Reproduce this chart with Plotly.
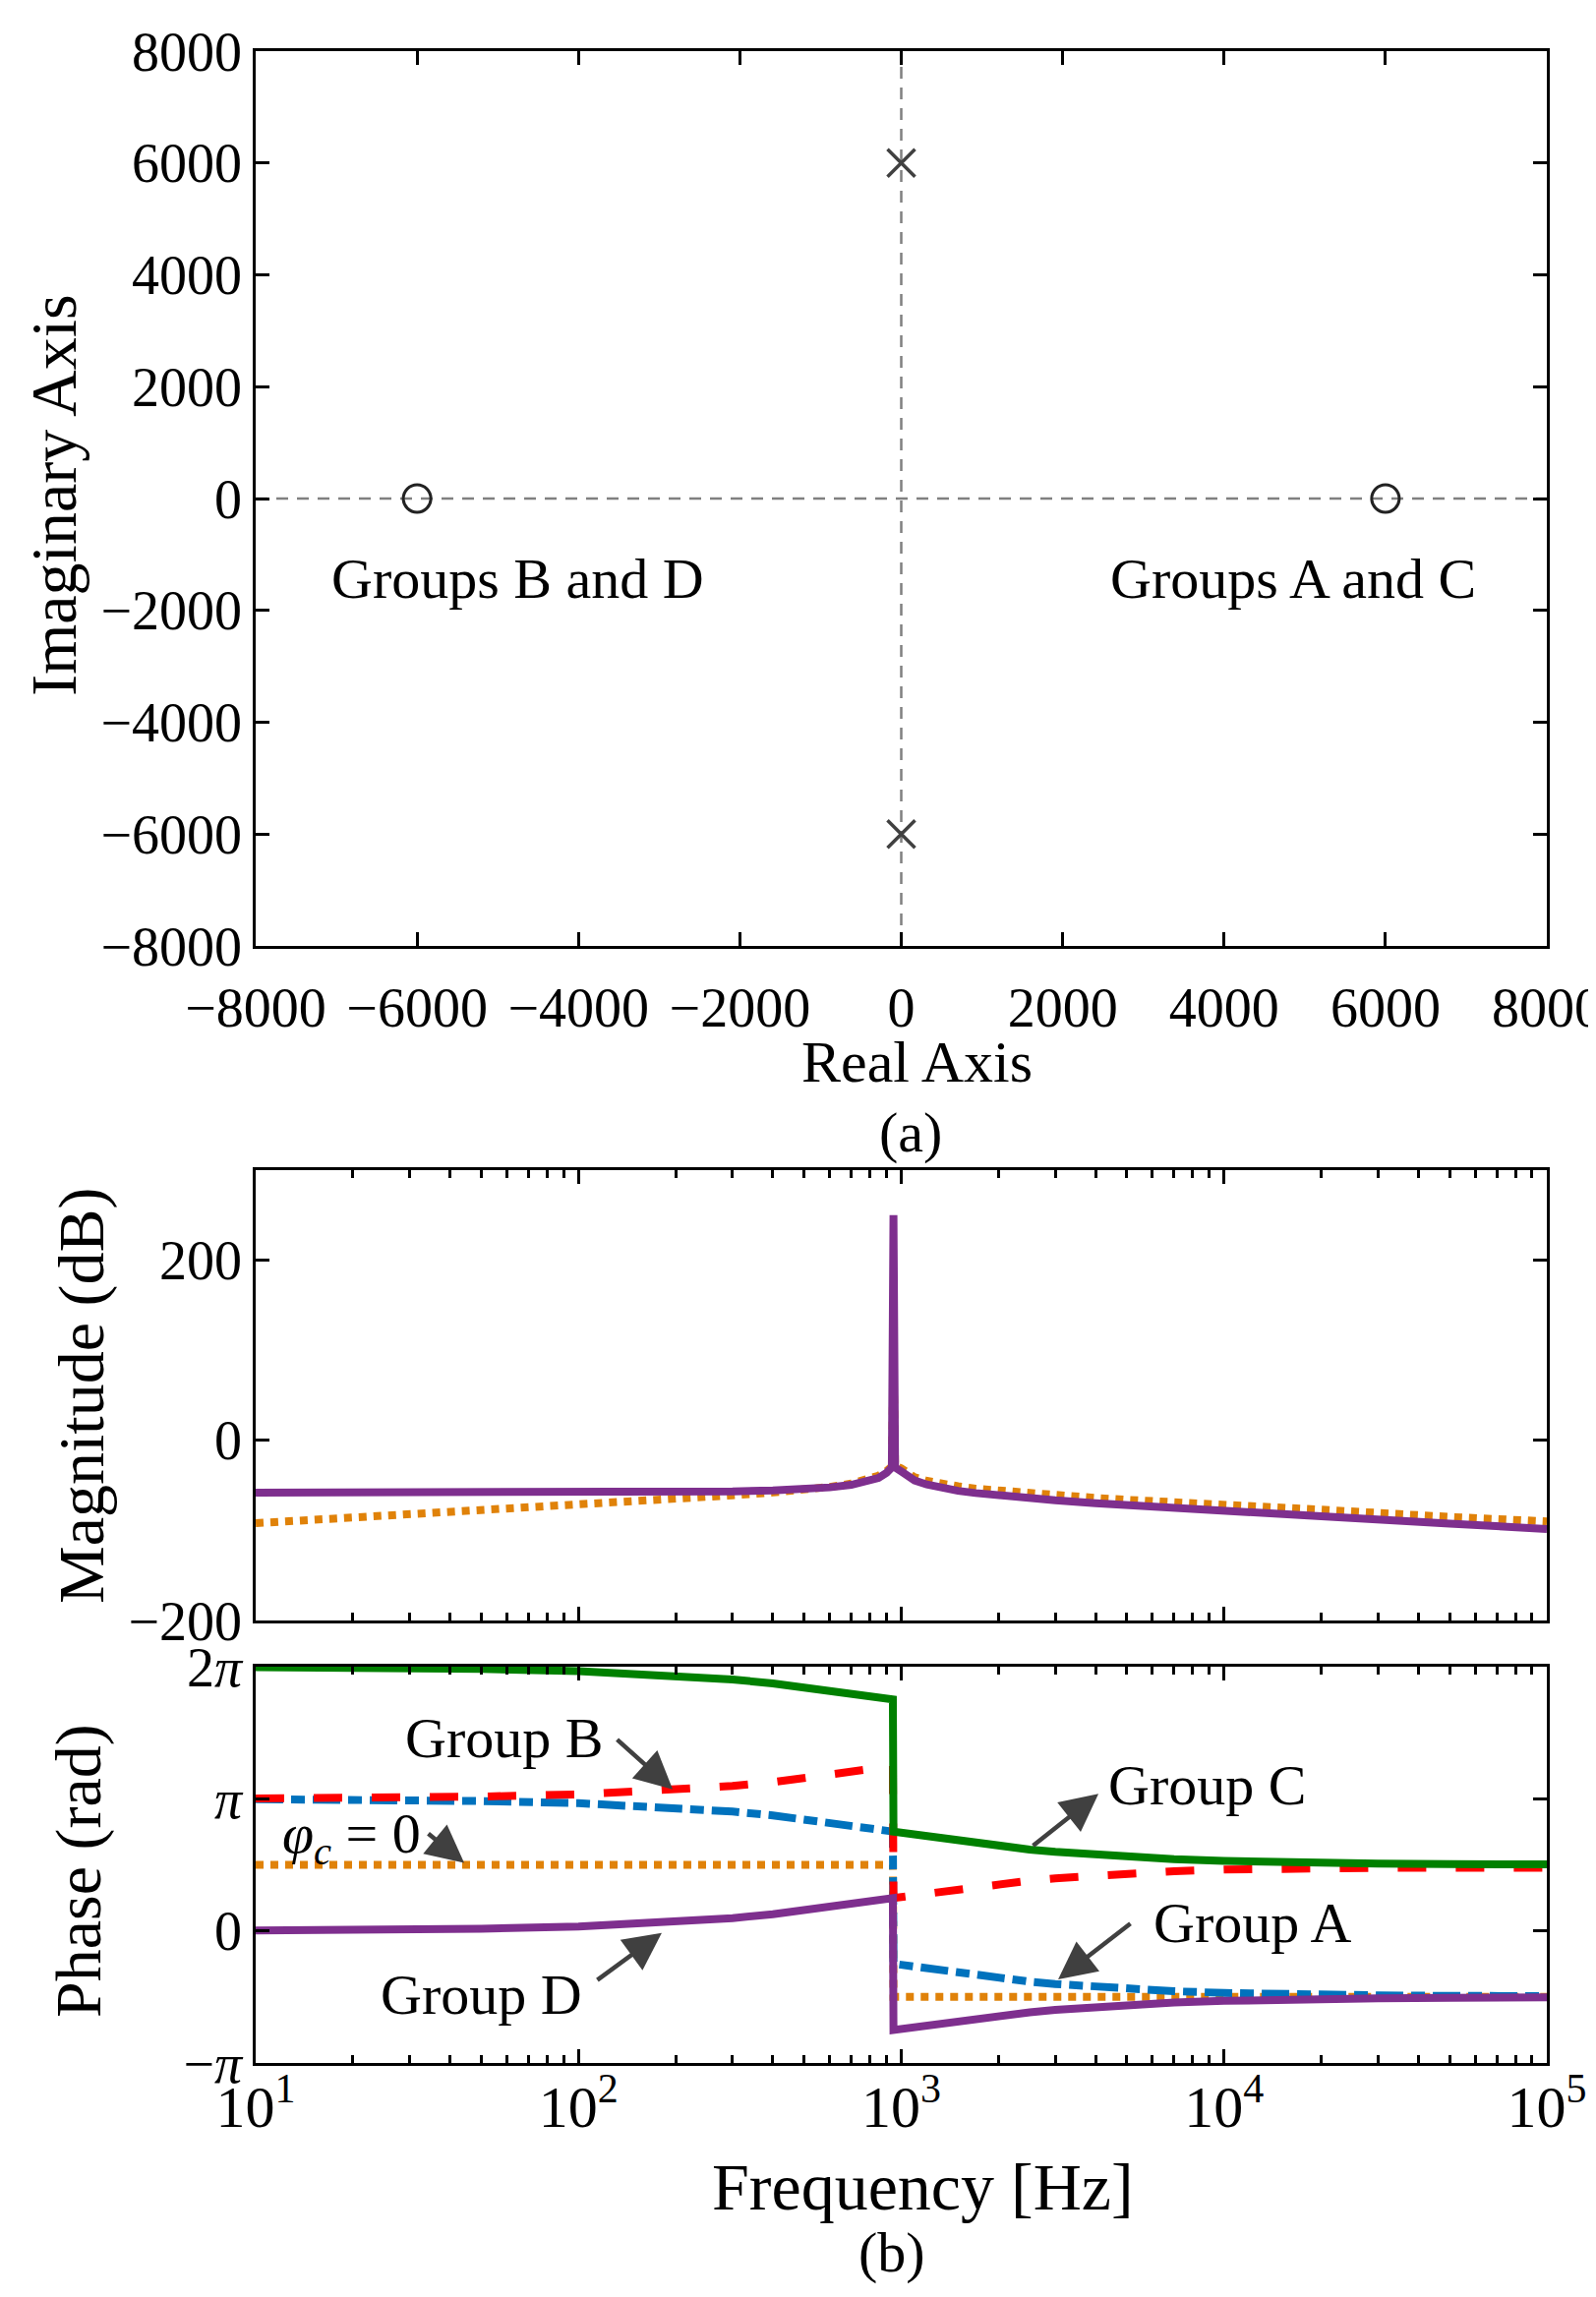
import plotly.graph_objects as go

W, H = 1623, 2336
FONT = "Liberation Serif, Times New Roman, serif"

# ---- (a) pole-zero map ----
pole_re = [0, 0]
pole_im = [6000, -6000]
zero_re = [-6000, 6000]
zero_im = [0, 0]
pz_ticks = [-8000, -6000, -4000, -2000, 0, 2000, 4000, 6000, 8000]
pz_ticktext = ["\u22128000", "\u22126000", "\u22124000", "\u22122000", "0",
               "2000", "4000", "6000", "8000"]

# ---- (b) bode plot, magnitude in dB ----
mag_freq = [10, 20, 50, 100, 200, 300, 400, 500, 600, 700, 800, 850, 900, 935, 946, 957,
            1000, 1100, 1200, 1300, 1500, 1700, 2000, 2500, 3000, 4000, 5000, 7000,
            10000, 20000, 50000, 100000]
mag_groups = [-58, -58, -58, -58, -57.4, -56.7, -55.6, -54.2, -52.2, -49.4, -45.2, -41.8,
              -36, -30, 250, -30, -34.5, -44.6, -49, -52.1, -56, -58.5, -61.3, -64.4,
              -66.6, -69.7, -72, -75.1, -78.3, -84.4, -92.4, -98.4]
mag_phic0 = [-92, -86, -78, -72, -65, -61, -57.9, -55, -51.7, -48, -43, -39.3,
             -34, -29, 88, -28, -31, -41, -45, -47.9, -51, -53.7, -56, -59,
             -61, -63.9, -66, -69.1, -71, -77, -85, -90]

# phase in units of pi
ph_freq = [10, 20, 50, 100, 200, 300, 400, 500, 600, 700, 800, 850, 900, 942,
           946, 1000, 1100, 1200, 1300, 1500, 1700, 2000, 2500, 3000, 4000, 5000, 7000,
           10000, 15000, 20000, 30000, 50000, 100000]
ph_a = [0.997, 0.993, 0.983, 0.967, 0.934, 0.903, 0.874, 0.846, 0.821, 0.799, 0.778, 0.769, 0.759, 0.752,
        -0.249, -0.257, -0.273, -0.286, -0.298, -0.320, -0.337, -0.358, -0.384, -0.402, -0.425, -0.440,
        -0.457, -0.470, -0.480, -0.485, -0.488, -0.492, -0.494]
ph_b = [1.003, 1.007, 1.017, 1.033, 1.066, 1.097, 1.126, 1.154, 1.179, 1.201, 1.222, 1.231, 1.241, 1.248,
        0.249, 0.257, 0.273, 0.286, 0.298, 0.318, 0.335, 0.356, 0.380, 0.398, 0.420, 0.435,
        0.452, 0.464, 0.472, 0.475, 0.477, 0.478, 0.478]
ph_c = [1.997, 1.993, 1.983, 1.967, 1.934, 1.903, 1.874, 1.846, 1.821, 1.799, 1.778, 1.769, 1.759, 1.752,
        0.751, 0.743, 0.727, 0.714, 0.702, 0.680, 0.663, 0.642, 0.616, 0.598, 0.575, 0.560,
        0.543, 0.530, 0.520, 0.515, 0.510, 0.506, 0.503]
ph_d = [0.003, 0.007, 0.017, 0.033, 0.066, 0.097, 0.126, 0.154, 0.179, 0.201, 0.222, 0.231, 0.241, 0.248,
        -0.751, -0.743, -0.727, -0.714, -0.702, -0.680, -0.663, -0.642, -0.616, -0.598, -0.575, -0.560,
        -0.543, -0.530, -0.520, -0.515, -0.510, -0.506, -0.503]
ph_phic0 = [0.5, 0.5, 0.5, 0.5, 0.5, 0.5, 0.5, 0.5, 0.5, 0.5, 0.5, 0.5, 0.5, 0.5,
            -0.5, -0.5, -0.5, -0.5, -0.5, -0.5, -0.5, -0.5, -0.5, -0.5, -0.5, -0.5,
            -0.5, -0.5, -0.5, -0.5, -0.5, -0.5, -0.5]

freq_ticks = [10, 100, 1000, 10000, 100000]
freq_ticktext = ["10<sup>1</sup>", "10<sup>2</sup>", "10<sup>3</sup>",
                 "10<sup>4</sup>", "10<sup>5</sup>"]
phase_ticks = [-1, 0, 1, 2]
phase_ticktext = ["\u2212<i>\u03c0</i>", "0", "<i>\u03c0</i>", "2<i>\u03c0</i>"]

C_ORANGE = "#e08209"
C_BLUE = "#0072bd"
C_RED = "#ff0000"
C_GREEN = "#008000"
C_PURPLE = "#7e2f8e"
LW = 8


def px(x):
    return x / W


def py(y):
    return 1 - y / H


fig = go.Figure()

# pole-zero map
fig.add_trace(go.Scatter(x=pole_re, y=pole_im, mode="markers", xaxis="x", yaxis="y",
                         marker=dict(symbol="x-thin-open", size=28, color="#404040",
                                     line=dict(color="#404040", width=3.5))))
fig.add_trace(go.Scatter(x=zero_re, y=zero_im, mode="markers", xaxis="x", yaxis="y",
                         marker=dict(symbol="circle-open", size=28, color="#222222",
                                     line=dict(color="#222222", width=3))))

# magnitude
fig.add_trace(go.Scatter(x=mag_freq, y=mag_phic0, mode="lines", xaxis="x2", yaxis="y2",
                         line=dict(color=C_ORANGE, width=LW, dash="8px,7px")))
fig.add_trace(go.Scatter(x=mag_freq, y=mag_groups, mode="lines", xaxis="x2", yaxis="y2",
                         line=dict(color=C_PURPLE, width=LW)))

# phase
fig.add_trace(go.Scatter(x=ph_freq, y=ph_phic0, mode="lines", xaxis="x3", yaxis="y3",
                         line=dict(color=C_ORANGE, width=LW, dash="8px,7px")))
fig.add_trace(go.Scatter(x=ph_freq, y=ph_a, mode="lines", xaxis="x3", yaxis="y3",
                         line=dict(color=C_BLUE, width=LW, dash="28px,8px,14px,8px")))
fig.add_trace(go.Scatter(x=ph_freq, y=ph_b, mode="lines", xaxis="x3", yaxis="y3",
                         line=dict(color=C_RED, width=LW, dash="29px,30px")))
fig.add_trace(go.Scatter(x=ph_freq, y=ph_c, mode="lines", xaxis="x3", yaxis="y3",
                         line=dict(color=C_GREEN, width=LW)))
fig.add_trace(go.Scatter(x=ph_freq, y=ph_d, mode="lines", xaxis="x3", yaxis="y3",
                         line=dict(color=C_PURPLE, width=LW)))


def frame(**kw):
    d = dict(showline=True, linecolor="black", linewidth=2.5, mirror="allticks",
             ticks="inside", ticklen=14, tickwidth=2.5, tickcolor="black",
             showgrid=False, zeroline=False, automargin=False,
             tickfont=dict(family=FONT, size=56, color="black"))
    d.update(kw)
    return d


xdom = [px(252), px(1565)]
minor_vals = [m * 10 ** k for k in range(1, 5) for m in range(2, 10)]
log_minor = dict(ticks="inside", ticklen=8, tickwidth=2.5, tickcolor="black",
                 showgrid=False, tickvals=minor_vals)

layout = dict(
    width=W, height=H, margin=dict(l=0, r=0, t=0, b=0, autoexpand=False),
    paper_bgcolor="white", plot_bgcolor="white", showlegend=False,
    font=dict(family=FONT, color="black"),
    xaxis=frame(domain=xdom, anchor="y", range=[-8000, 8000], tickvals=pz_ticks,
                ticktext=pz_ticktext, ticklabelstandoff=12),
    yaxis=frame(domain=[py(954), py(44)], anchor="x", range=[-8000, 8000],
                tickvals=pz_ticks, ticktext=pz_ticktext),
    xaxis2=frame(domain=xdom, anchor="y2", type="log", range=[1, 5],
                 tickvals=freq_ticks, showticklabels=False, minor=log_minor),
    yaxis2=frame(domain=[py(1640), py(1182)], anchor="x2", range=[-200, 300],
                 tickvals=[-200, 0, 200], ticktext=["\u2212200", "0", "200"]),
    xaxis3=frame(domain=xdom, anchor="y3", type="log", range=[1, 5],
                 tickvals=freq_ticks, ticktext=freq_ticktext, minor=log_minor,
                 ticklabelstandoff=-10,
                 tickfont=dict(family=FONT, size=60, color="black")),
    yaxis3=frame(domain=[py(2090), py(1687)], anchor="x3", range=[-1, 2],
                 tickvals=phase_ticks, ticktext=phase_ticktext),
)
fig.update_layout(**layout)

# dashed zero lines of the pole-zero map
fig.add_shape(type="line", xref="x domain", x0=0, x1=1, yref="y", y0=0, y1=0,
              line=dict(color="#808080", width=2.5, dash="12px,9px"), layer="below")
fig.add_shape(type="line", xref="x", x0=0, x1=0, yref="y domain", y0=0, y1=1,
              line=dict(color="#808080", width=2.5, dash="12px,9px"), layer="below")

# text labels (pixel positions of the reference)
labels = [
    ("Imaginary Axis", 47, 496, 66, -90),
    ("Real Axis", 924, 1072, 60, 0),
    ("(a)", 918, 1143, 58, 0),
    ("Magnitude (dB)", 75, 1412, 66, -90),
    ("Phase (rad)", 72, 1895, 66, -90),
    ("Frequency [Hz]", 930, 2216, 68, 0),
    ("(b)", 899, 2282, 58, 0),
    ("Groups B and D", 518, 580, 58, 0),
    ("Groups A and C", 1307, 580, 58, 0),
    ("Group B", 505, 1759, 58, 0),
    ("Group C", 1219, 1807, 58, 0),
    ("Group A", 1266, 1948, 58, 0),
    ("Group D", 481, 2020, 58, 0),
    ("<i>\u03c6</i><sub><i>c</i></sub> = 0", 349, 1860, 58, 0),
]
for text, x, y, size, ang in labels:
    fig.add_annotation(text=text, xref="paper", yref="paper", x=px(x), y=py(y),
                       xanchor="center", yanchor="middle", showarrow=False,
                       textangle=ang, font=dict(family=FONT, size=size, color="black"))

# arrows: head in data coordinates (log10 f, phase/pi), tail offset in px
arrows = [
    (2.292, 1.071, -58, -52),   # Group B
    (2.258, -0.015, -67, 49),   # Group D
    (1.646, 0.514, -38, -31),   # phi_c = 0
    (3.611, 1.038, -68, 54),    # Group C
    (3.486, -0.368, 75, -58),   # Group A
]
for x, y, ax, ay in arrows:
    fig.add_annotation(text="", xref="x3", yref="y3", x=x, y=y, ax=ax, ay=ay,
                       showarrow=True, arrowhead=2, arrowsize=1.7, arrowwidth=4.5,
                       arrowcolor="#404040")

fig.write_html("out.html")
